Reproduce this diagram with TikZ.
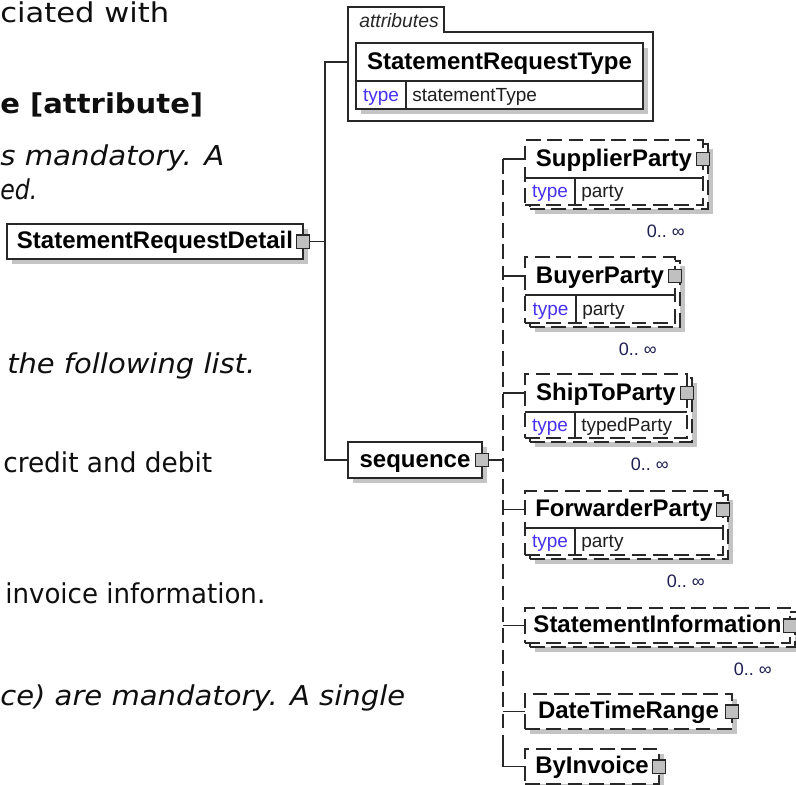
\documentclass[tikz,border=0pt]{standalone}
\usepackage{fontspec}
\usepackage{graphicx}
\usetikzlibrary{fit,calc}
\newfontfamily\paraf{DejaVu Sans}
\newfontfamily\arialf{Liberation Sans}
\definecolor{lncol}{RGB}{40,40,40}
\definecolor{shdcol}{RGB}{196,196,196}
\definecolor{sqcol}{RGB}{192,192,192}
\definecolor{typcol}{RGB}{70,50,240}
\definecolor{valcol}{RGB}{30,30,30}
\definecolor{cardcol}{RGB}{30,30,80}
\definecolor{txtcol}{RGB}{15,15,15}
\newcommand{\fitw}[2]{\setbox0=\hbox{#2}\pgfmathsetmacro\fx{(#1)*0.75/\the\wd0}\scalebox{\fx}[1]{\box0}}
\tikzset{
  ln/.style={draw=lncol, line width=1pt},
  dsh/.style={dash pattern=on 11pt off 5pt},
  bx/.style={ln, fill=white, inner sep=0pt, outer sep=0pt},
  hid/.style={inner sep=0pt, outer sep=0pt},
  shd/.style={fill=shdcol},
  ttl/.style={font=\arialf\bfseries\fontsize{18}{20}\selectfont, text=black, inner sep=0pt, anchor=base, yshift=-5.4pt},
  tname/.style={font=\arialf\fontsize{14.25}{16}\selectfont, text=typcol, inner sep=0pt, anchor=base, yshift=-4.5pt},
  tval/.style={font=\arialf\fontsize{14.25}{16}\selectfont, text=valcol, inner sep=0pt, anchor=base west, yshift=-4.5pt},
  card/.style={font=\arialf\fontsize{13.5}{15}\selectfont, text=cardcol, inner sep=0pt, anchor=base east},
  sqr/.style={ln, fill=sqcol, minimum size=10pt, inner sep=0pt},
  par/.style={font=\paraf\fontsize{20.5}{25}\selectfont, text=txtcol, inner sep=0pt, anchor=base west},
  pari/.style={par, font=\paraf\itshape\fontsize{20.5}{25}\selectfont},
  parb/.style={par, font=\paraf\bfseries\fontsize{20.5}{25}\selectfont},
}
% repeated element with a type row
\newcommand{\relem}[9]{%
  \fill[shd] ({#2+10},{#3+9}) rectangle ({#4+10},{#6+9});
  \node[fit={({#2+5},{#3+4}) ({#4+5},{#6+4})}, bx, dsh] (#1-b) {};
  \node[fit={(#2,#3) (#4,#6)}, bx, dsh] (#1) {};
  \node[fit={(#2,#3) (#4,#5)}, hid] (#1-h) {};
  \draw[ln] (#1-h.south west) -- (#1-h.south east);
  \draw[ln] (#7,#5) -- (#7,#6);
  \node[ttl] (#1-t) at (#1-h.center) {#8};
  \node[tname] (#1-k) at ({(#2+#7)/2},{(#5+#6)/2}) {type};
  \node[tval] (#1-v) at ({#7+6},{(#5+#6)/2}) {#9};
  \node[sqr] (#1-s) at (#1-h.east) {};
  \node[card] (#1-c) at ({#4-18},{#6+32}) {0..\ ∞};
}
\begin{document}
\begin{tikzpicture}[x=0.75pt,y=-0.75pt]
\useasboundingbox (0,0) rectangle (796,785);
\fill[white] (0,0) rectangle (796,785);
\clip (0,0) rectangle (796,785);

% left page text
\node[par] (p1) at (0,22) {\fitw{169}{ciated with}};
\node[parb] (p2) at (0,113) {\fitw{203}{e [attribute]}};
\node[pari] (p3) at (0,165) {\fitw{224}{s mandatory. A}};
\node[pari] (p4) at (0,199) {\fitw{37}{ed.}};
\node[pari] (p5) at (7,373) {\fitw{248}{the following list.}};
\node[par] (p6) at (3,472) {\fitw{209}{credit and debit}};
\node[par] (p7) at (5,603) {\fitw{260}{invoice information.}};
\node[pari] (p8) at (0,705) {\fitw{405}{ce) are mandatory. A single}};

% StatementRequestDetail
\fill[shd] (12,229) rectangle (308,264);
\node[fit={(7,224) (303,259)}, bx] (srd) {};
\node[ttl] (srd-t) at (srd.center) {StatementRequestDetail};

% attributes frame
\node[fit={(348,7) (444,32)}, hid] (tab) {};
\node[fit={(348,32) (653,121)}, hid] (attr) {};
\draw[ln] (attr.south west) -- (tab.north west) -- (tab.north east) -- (tab.south east) -- (attr.north east) -- (attr.south east) -- cycle;
\node[anchor=base west, inner sep=0pt, font=\arialf\itshape\fontsize{14.5}{16}\selectfont, text=lncol] (tab-t) at (359,27) {attributes};

% StatementRequestType
\fill[shd] (361,48) rectangle (648,114);
\node[fit={(356,43) (643,109)}, bx] (srt) {};
\node[fit={(356,43) (643,81)}, hid] (srt-h) {};
\draw[ln] (srt-h.south west) -- (srt-h.south east);
\draw[ln] (406,81) -- (406,109);
\node[ttl] (srt-t) at (srt-h.center) {StatementRequestType};
\node[tname] (srt-k) at (381,95) {type};
\node[tval] (srt-v) at (412,95) {statementType};

% sequence
\fill[shd] (353,447) rectangle (487,483);
\node[fit={(348,442) (482,478)}, bx] (seq) {};
\node[ttl] (seq-t) at (seq.center) {sequence};

% children
\relem{sup}{525}{140}{703}{178}{205}{575}{SupplierParty}{party}
\relem{buy}{525}{257}{675}{295}{323}{576}{BuyerParty}{party}
\relem{shp}{525}{374}{687}{412}{438}{575}{ShipToParty}{typedParty}
\relem{fwd}{525}{491}{723}{528}{555}{575}{ForwarderParty}{party}

\fill[shd] (535,617) rectangle (800,652);
\node[fit={(530,612) (795,647)}, bx, dsh] (sti-b) {};
\node[fit={(525,608) (790,643)}, bx, dsh] (sti) {};
\node[ttl] (sti-t) at (sti.center) {StatementInformation};
\node[card] (sti-c) at (772,675) {0..\ ∞};

\fill[shd] (530,699) rectangle (737,734);
\node[fit={(525,694) (732,729)}, bx, dsh] (dtr) {};
\node[ttl] (dtr-t) at (dtr.center) {DateTimeRange};

\fill[shd] (530,754) rectangle (664,789);
\node[fit={(525,749) (659,784)}, bx, dsh] (bi) {};
\node[ttl] (bi-t) at (bi.center) {ByInvoice};

% connectors
\coordinate (mb) at (325,0);
\coordinate (sb) at (503,0);
\draw[ln] (attr.west |- srt-h.center) -- (mb |- srt-h.center) -- (mb |- seq.center) -- (seq.west);
\draw[ln] (srd.east) -- (mb |- srd.east);
\draw[ln] (seq.east) -- (sb |- seq.east);
\draw[ln, dsh] (sb |- sup-h.center) -- (sb |- bi.center);
\draw[ln] (sb |- bi.north) -- (sb |- bi.center);
\foreach \n in {sup-h,buy-h,shp-h,fwd-h,sti,dtr,bi} \draw[ln] (sb |- \n.center) -- (\n.west);

% connector squares
\node[sqr] (srd-s) at (srd.east) {};
\node[sqr] (seq-s) at (seq.east) {};
\node[sqr] (sti-s) at (sti.east) {};
\node[sqr] (dtr-s) at (dtr.east) {};
\node[sqr] (bi-s) at (bi.east) {};
\end{tikzpicture}
\end{document}
